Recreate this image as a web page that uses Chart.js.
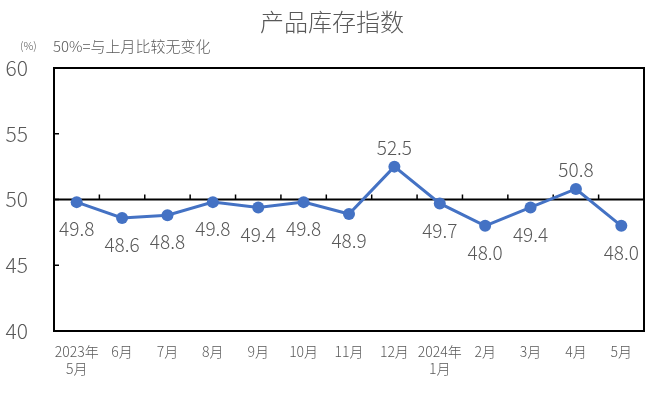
<!DOCTYPE html>
<html>
<head>
<meta charset="utf-8">
<script src="https://cdn.jsdelivr.net/npm/chart.js@4/dist/chart.umd.min.js"></script>
<style>
html,body{margin:0;padding:0;background:#fff;}
#wrap{width:658px;height:396px;position:relative;}
</style>
</head>
<body>
<div id="wrap"><canvas id="c" width="658" height="396"></canvas></div>
<script>
const titleText = "产品库存指数";
const noteText = "(%)";
const subtitleText = "50%=与上月比较无变化";
const categories = [["2023年","5月"],"6月","7月","8月","9月","10月","11月","12月",["2024年","1月"],"2月","3月","4月","5月"];
const values = [49.8,48.6,48.8,49.8,49.4,49.8,48.9,52.5,49.7,48.0,49.4,50.8,48.0];
const labelAbove = [false,false,false,false,false,false,false,true,false,false,false,true,false];
const yTicks = [40,45,50,55,60];
const baseline = 50;

const FONT = "'Noto Sans CJK SC','Noto Sans',sans-serif";
const GRAY = "#595959";
const BLUE = "#4472C4";

const decor = {
  id: 'decor',
  beforeDatasetsDraw(chart) {
    const ctx = chart.ctx;
    const a = chart.chartArea;
    const y = chart.scales.y, x = chart.scales.x;
    ctx.save();
    ctx.strokeStyle = '#000';
    ctx.lineWidth = 2;
    ctx.strokeRect(a.left, a.top, a.right - a.left, a.bottom - a.top);
    const yb = y.getPixelForValue(baseline);
    ctx.beginPath();
    ctx.moveTo(a.left, yb); ctx.lineTo(a.right, yb);
    ctx.stroke();
    ctx.lineWidth = 1.5;
    const n = categories.length;
    for (let i = 1; i < n; i++) {
      const px = (x.getPixelForValue(i - 1) + x.getPixelForValue(i)) / 2;
      ctx.beginPath(); ctx.moveTo(px, yb); ctx.lineTo(px, yb - 5); ctx.stroke();
    }
    yTicks.forEach(v => {
      if (v === 40 || v === 60) return;
      const py = y.getPixelForValue(v);
      ctx.beginPath(); ctx.moveTo(a.left, py); ctx.lineTo(a.left + 5, py); ctx.stroke();
    });
    ctx.fillStyle = GRAY;
    ctx.textBaseline = 'middle';
    ctx.textAlign = 'center';
    ctx.font = "300 24px " + FONT;
    ctx.fillText(titleText, 332, 22);
    ctx.textAlign = 'left';
    ctx.font = "300 11px " + FONT;
    ctx.fillText(noteText, 20, 46);
    ctx.font = "300 15px " + FONT;
    ctx.fillText(subtitleText, 53, 46);
    ctx.restore();
  },
  afterDatasetsDraw(chart) {
    const ctx = chart.ctx;
    const meta = chart.getDatasetMeta(0);
    ctx.save();
    ctx.fillStyle = GRAY;
    ctx.font = "300 19px " + FONT;
    ctx.textAlign = 'center';
    ctx.textBaseline = 'middle';
    meta.data.forEach((pt, i) => {
      const dy = labelAbove[i] ? -19 : 27;
      ctx.fillText(values[i].toFixed(1), pt.x, pt.y + dy);
    });
    ctx.restore();
  }
};

new Chart(document.getElementById('c'), {
  type: 'line',
  data: {
    labels: categories,
    datasets: [{
      data: values,
      borderColor: BLUE,
      backgroundColor: BLUE,
      borderWidth: 3,
      pointRadius: 6,
      pointBackgroundColor: BLUE,
      pointBorderColor: BLUE,
      pointBorderWidth: 0,
      tension: 0
    }]
  },
  options: {
    responsive: false,
    animation: false,
    devicePixelRatio: 1,
    layout: { padding: { top: 68, right: 14, left: 0, bottom: 0 } },
    plugins: { legend: { display: false }, tooltip: { enabled: false }, title: { display: false } },
    scales: {
      x: {
        offset: true,
        grid: { display: false },
        border: { display: false },
        ticks: { color: GRAY, font: { size: 14, family: FONT, weight: '300' }, padding: 4, maxRotation: 0, autoSkip: false },
        afterFit(s) { s.height = 65; }
      },
      y: {
        min: 40, max: 60,
        afterBuildTicks(s) { s.ticks = yTicks.map(v => ({ value: v })); },
        grid: { display: false },
        border: { display: false },
        ticks: { color: GRAY, font: { size: 21, family: FONT, weight: '300' }, padding: 18 },
        afterFit(s) { s.width = 54; }
      }
    }
  },
  plugins: [decor]
});
</script>
</body>
</html>
